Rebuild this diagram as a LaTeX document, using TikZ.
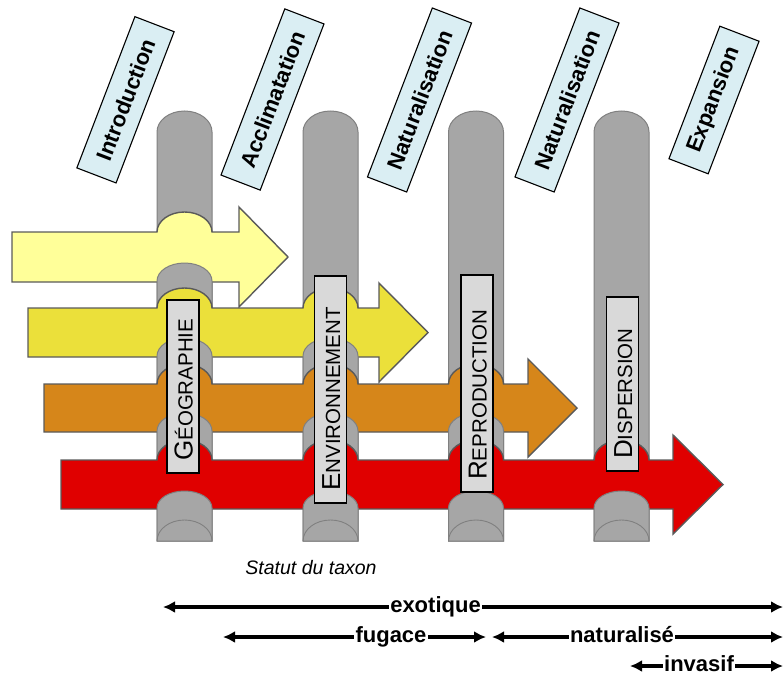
\documentclass[tikz,border=0pt]{standalone}
\usepackage{fontspec}
\setmainfont{Liberation Sans}
\usetikzlibrary{arrows.meta}
\definecolor{pipefill}{HTML}{A6A6A6}
\definecolor{pipeline}{HTML}{808080}
\definecolor{arrowline}{HTML}{5A5A5A}
\definecolor{yelA}{HTML}{FFFF99}
\definecolor{yelB}{HTML}{EBE03A}
\definecolor{oraC}{HTML}{D6861A}
\definecolor{redD}{HTML}{E00000}
\definecolor{lblue}{HTML}{DAEEF3}
\definecolor{lgray}{HTML}{D9D9D9}
\newcommand{\BigInit}[1]{{\fontsize{26}{30}\selectfont #1}}
\newcommand{\SmallRest}[1]{{\fontsize{20.5}{24}\selectfont #1}}
\begin{document}
\begin{tikzpicture}[x=1pt,y=-1pt,
  pipestyle/.style={fill=pipefill,draw=pipeline,line width=1pt},
  arrowbody/.style={draw=arrowline,line width=1.4pt,line join=miter},
  topbox/.style={draw=black,fill=lblue,line width=1.1pt,rotate=69,minimum height=42pt,inner sep=0pt,font=\fontsize{22}{26}\selectfont\bfseries},
  labbox/.style={draw=black,fill=lgray,line width=1.5pt,minimum width=32pt,inner sep=0pt},
  labtext/.style={rotate=90,anchor=base west,inner sep=0pt},
  statline/.style={line width=4pt,{Latex[length=12pt,width=12pt]}-{Latex[length=12pt,width=12pt]}},
  stattext/.style={fill=white,inner sep=1.5pt,anchor=base,font=\fontsize{22}{26}\selectfont\bfseries}]
\useasboundingbox (0,0) rectangle (783,677);
% pipes
\foreach \cx in {184.5,330.5,476,621.5}{
  \draw[pipestyle] (\cx-27.5,541) -- (\cx-27.5,132) arc[start angle=180,end angle=0,x radius=27.5pt,y radius=21pt] -- (\cx+27.5,541) -- cycle;
}
% arrow 1
\draw[arrowbody,fill=yelA] (12,232) -- (157,232) arc[start angle=180,end angle=0,x radius=27.5pt,y radius=20pt]
  -- (239,232) -- (239,207) -- (288,257) -- (239,307) -- (239,282) -- (12,282) -- cycle;
\foreach \cx in {184.5}{
  \path[pipestyle] (\cx-27.5,312) -- (\cx-27.5,281) arc[start angle=180,end angle=0,x radius=27.5pt,y radius=18pt] -- (\cx+27.5,312);
}
% arrow 2
\draw[arrowbody,fill=yelB] (28,308) -- (157,308) arc[start angle=180,end angle=0,x radius=27.5pt,y radius=20pt]
  -- (303,308) arc[start angle=180,end angle=0,x radius=27.5pt,y radius=20pt]
  -- (379,308) -- (379,283) -- (428,332.5) -- (379,382) -- (379,357) -- (28,357) -- cycle;
\foreach \cx in {184.5,330.5}{
  \path[pipestyle] (\cx-27.5,388) -- (\cx-27.5,356) arc[start angle=180,end angle=0,x radius=27.5pt,y radius=18pt] -- (\cx+27.5,388);
}
% arrow 3
\draw[arrowbody,fill=oraC] (44,384) -- (157,384) arc[start angle=180,end angle=0,x radius=27.5pt,y radius=20pt]
  -- (303,384) arc[start angle=180,end angle=0,x radius=27.5pt,y radius=20pt]
  -- (448.5,384) arc[start angle=180,end angle=0,x radius=27.5pt,y radius=20pt]
  -- (528,384) -- (528,359) -- (577,408) -- (528,457) -- (528,432) -- (44,432) -- cycle;
\foreach \cx in {184.5,330.5,476}{
  \path[pipestyle] (\cx-27.5,464) -- (\cx-27.5,431) arc[start angle=180,end angle=0,x radius=27.5pt,y radius=18pt] -- (\cx+27.5,464);
}
% arrow 4
\draw[arrowbody,fill=redD] (61,460) -- (157,460) arc[start angle=180,end angle=0,x radius=27.5pt,y radius=20pt]
  -- (303,460) arc[start angle=180,end angle=0,x radius=27.5pt,y radius=20pt]
  -- (448.5,460) arc[start angle=180,end angle=0,x radius=27.5pt,y radius=20pt]
  -- (594,460) arc[start angle=180,end angle=0,x radius=27.5pt,y radius=20pt]
  -- (673,460) -- (673,435) -- (723,484.5) -- (673,534) -- (673,509) -- (61,509) -- cycle;
\foreach \cx in {184.5,330.5,476,621.5}{
  \draw[pipestyle] (\cx-27.5,541) -- (\cx-27.5,508) arc[start angle=180,end angle=0,x radius=27.5pt,y radius=17pt] -- (\cx+27.5,541) -- cycle;
  \draw[draw=pipeline,line width=0.9pt] (\cx-27.5,541) arc[start angle=180,end angle=0,x radius=27.5pt,y radius=21pt];
}
% pipe labels
\node[labbox,minimum height=173pt] (b1) at (183,386.5) {};
\node[labtext] (t1) at (192.5,461) {\BigInit{G}\SmallRest{ÉOGRAPHIE}};
\node[labbox,minimum height=227pt] (b2) at (330.5,389.5) {};
\node[labtext] (t2) at (340,491) {\BigInit{E}\SmallRest{NVIRONNEMENT}};
\node[labbox,minimum height=217pt] (b3) at (477,383.5) {};
\node[labtext] (t3) at (486.5,480) {\BigInit{R}\SmallRest{EPRODUCTION}};
\node[labbox,minimum height=174pt] (b4) at (622.5,384) {};
\node[labtext] (t4) at (632,459) {\BigInit{D}\SmallRest{ISPERSION}};
% top labels
\node[topbox,minimum width=162pt] (s1) at (125.5,99.8) {Introduction};
\node[topbox,minimum width=178pt] (s2) at (272.5,99.5) {Acclimatation};
\node[topbox,minimum width=181pt] (s3) at (419.5,100) {Naturalisation};
\node[topbox,minimum width=181pt] (s4) at (567,100) {Naturalisation};
\node[topbox,minimum width=142pt] (s5) at (714,100) {Expansion};
% status
\node[font=\fontsize{19.5}{22}\selectfont\itshape] (statut) at (311,568) {Statut du taxon};
\coordinate (exL) at (163,607);
\coordinate (exR) at (783,607);
\coordinate (fuL) at (223,637);
\coordinate (fuR) at (486,637);
\coordinate (naL) at (492,637);
\coordinate (naR) at (783,637);
\coordinate (inL) at (630,666);
\coordinate (inR) at (783,666);
\draw[statline] (exL) -- (exR);
\draw[statline] (fuL) -- (fuR);
\draw[statline] (naL) -- (naR);
\draw[statline] (inL) -- (inR);
\node[stattext] (exo) at (435.5,612.5) {exotique};
\node[stattext] (fug) at (391,642.5) {fugace};
\node[stattext] (nat) at (622,642.5) {naturalisé};
\node[stattext] (inv) at (699,671.5) {invasif};
\end{tikzpicture}
\end{document}
